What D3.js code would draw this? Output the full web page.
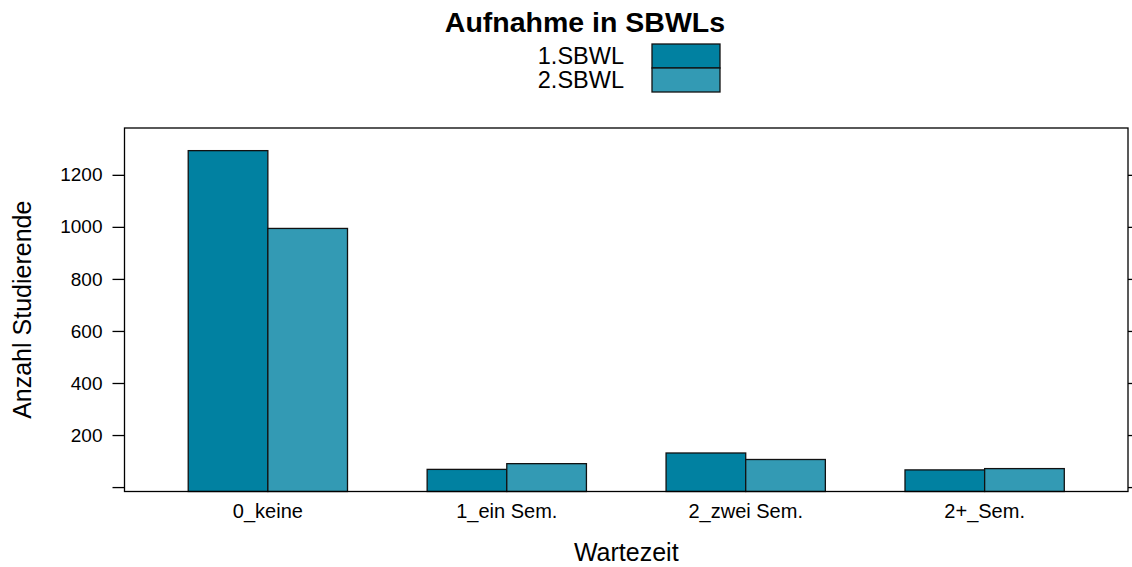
<!DOCTYPE html>
<html>
<head>
<meta charset="utf-8">
<script src="https://cdn.jsdelivr.net/npm/d3@7"></script>
<style>
  body { margin: 0; background: #fff; }
  text { font-family: "Liberation Sans", Arial, sans-serif; }
</style>
</head>
<body>
<svg id="chart" width="1132" height="567"></svg>
<script>
// waiting time categories and the two series (students admitted)
const categories = ["0_keine", "1_ein Sem.", "2_zwei Sem.", "2+_Sem."];
const seriesNames = ["1.SBWL", "2.SBWL"];
const sbwl1 = [1293, 68, 131, 66];
const sbwl2 = [994, 90, 106, 71];
const yTicks = [0, 200, 400, 600, 800, 1000, 1200];
const colors = ["#0181a1", "#339ab4"];

const svg = d3.select("#chart");
// panel box (window.top is taken, so use own names)
const panelL = 124.5, panelR = 1128, panelT = 128, panelB = 491.5;

// lattice style: factor positions 1..4 with limits 0.4..4.6
const x = d3.scaleLinear().domain([0.4, 4.6]).range([panelL, panelR]);
const y = d3.scaleLinear().domain([-17, 1380]).range([panelB, panelT]);
const barW = (2 / 3) / 2; // box.ratio = 2, split across 2 groups

const rows = categories.map((c, i) => ({ cat: c, i: i + 1, vals: [sbwl1[i], sbwl2[i]] }));

// bars
const g = svg.append("g");
rows.forEach(r => {
  r.vals.forEach((v, k) => {
    const x0 = x(r.i - barW + k * barW);
    g.append("rect")
      .attr("x", x0)
      .attr("y", y(v))
      .attr("width", x(r.i + barW) - x(r.i))
      .attr("height", panelB - y(v))
      .attr("fill", colors[k])
      .attr("stroke", "#111")
      .attr("stroke-width", 1.3);
  });
});

// panel frame
svg.append("rect")
  .attr("x", panelL).attr("y", panelT)
  .attr("width", panelR - panelL).attr("height", panelB - panelT)
  .attr("fill", "none").attr("stroke", "#000").attr("stroke-width", 1.3);

// left axis with labels, right ticks only
const yAxisL = d3.axisLeft(y).tickValues(yTicks).tickSize(12).tickPadding(10)
  .tickFormat(d => d === 0 ? "" : d);
svg.append("g").attr("transform", `translate(${panelL},0)`).call(yAxisL)
  .call(a => a.select(".domain").remove())
  .call(a => a.selectAll("line").attr("stroke", "#000").attr("stroke-width", 1.3))
  .call(a => a.selectAll("text").attr("font-size", 19).attr("fill", "#000")
    .style("font-family", "Liberation Sans, Arial, sans-serif"));

const yAxisR = d3.axisRight(y).tickValues(yTicks).tickSize(6).tickFormat("");
svg.append("g").attr("transform", `translate(${panelR},0)`).call(yAxisR)
  .call(a => a.select(".domain").remove())
  .call(a => a.selectAll("line").attr("stroke", "#000").attr("stroke-width", 1.3));

// category labels
svg.append("g").selectAll("text").data(rows).join("text")
  .attr("x", d => x(d.i))
  .attr("y", 518)
  .attr("text-anchor", "middle")
  .attr("font-size", 20)
  .text(d => d.cat);

// axis titles
svg.append("text")
  .attr("x", x(2.5)).attr("y", 561)
  .attr("text-anchor", "middle").attr("font-size", 25)
  .text("Wartezeit");

svg.append("text")
  .attr("transform", `translate(31,${(panelT + panelB) / 2}) rotate(-90)`)
  .attr("text-anchor", "middle").attr("font-size", 25)
  .text("Anzahl Studierende");

// title
svg.append("text")
  .attr("x", 585).attr("y", 32)
  .attr("text-anchor", "middle").attr("font-size", 28.5).attr("font-weight", "bold")
  .text("Aufnahme in SBWLs");

// legend
const legend = svg.append("g");
seriesNames.forEach((s, k) => {
  legend.append("rect")
    .attr("x", 652).attr("y", 44 + k * 24)
    .attr("width", 68).attr("height", 24)
    .attr("fill", colors[k]).attr("stroke", "#111").attr("stroke-width", 1.3);
  legend.append("text")
    .attr("x", 624).attr("y", 64 + k * 24)
    .attr("text-anchor", "end").attr("font-size", 23.5)
    .text(s);
});
</script>
</body>
</html>
